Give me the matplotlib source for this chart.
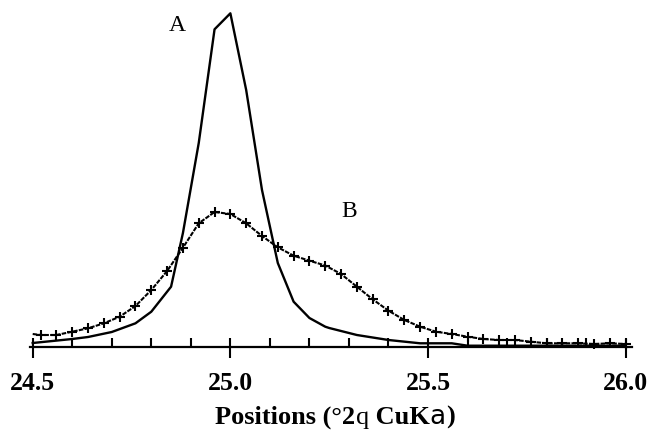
import matplotlib
matplotlib.use("Agg")
import matplotlib.pyplot as plt
from matplotlib.ticker import MultipleLocator, FixedLocator

# Curve A (solid line) : position (deg 2theta), intensity (arb.)
a_pos = [24.50, 24.60, 24.64, 24.70, 24.76, 24.80, 24.85, 24.88, 24.92, 24.96,
         25.00, 25.04, 25.08, 25.12, 25.16, 25.20, 25.24, 25.25, 25.32, 25.40,
         25.48, 25.56, 25.60, 26.00]
a_int = [4, 8, 10, 15, 23.7, 35.3, 60.3, 114, 204, 317.7,
         333.7, 257, 157, 84, 45.3, 29, 20.3, 19, 12, 7,
         3.7, 3.7, 1.3, 1.3]

# Curve B (markers '+') : every 0.04 deg from 24.52 to 26.00
b_pos = [round(24.52 + 0.04 * i, 2) for i in range(38)]
b_int = [12, 12, 15.3, 18.7, 23.7, 30.3, 41, 57, 76, 99.3,
         123.7, 135, 133, 123.7, 111, 99.7, 91.3, 86.3, 81.5, 73,
         60.3, 47.7, 36.3, 27, 20.3, 15.3, 13, 10.3, 8, 7,
         7, 5.3, 3.7, 3.7, 3.7, 3, 3.7, 3]

major_ticks = [24.5, 25.0, 25.5, 26.0]
major_labels = ["24.5", "25.0", "25.5", "26.0"]

W, H = 652, 432
fig = plt.figure(figsize=(W / 100, H / 100), dpi=100)
ax = fig.add_axes([30 / W, (H - 347) / H, 602 / W, 347 / H])

ax.plot(a_pos, a_int, color="black", lw=1.7, clip_on=False, zorder=3)
ax.plot([24.50] + b_pos, [13] + b_int, color="black", lw=1.5,
        linestyle=(0, (2.2, 0.6)), clip_on=False, zorder=3)
ax.plot(b_pos, b_int, linestyle="none", marker="+", ms=7.5, mew=1.5,
        color="black", clip_on=False, zorder=4)

ax.set_xlim(24.5 - 2.7 / 395.3, 26.0 + 6.3 / 395.3)
ax.set_ylim(0, 347)

for s in ["top", "right", "left"]:
    ax.spines[s].set_visible(False)
ax.spines["bottom"].set_linewidth(1.6)
ax.set_yticks([])

ax.xaxis.set_major_locator(FixedLocator(major_ticks))
ax.set_xticklabels(major_labels)
ax.xaxis.set_minor_locator(MultipleLocator(0.1))
ax.xaxis.remove_overlapping_locs = False
ax.tick_params(axis="x", which="major", direction="out", length=8, width=1.5,
               pad=10, labelsize=18.5)
ax.tick_params(axis="x", which="minor", direction="in", length=6.5, width=1.5)
for lab in ax.get_xticklabels():
    lab.set_fontfamily("Liberation Serif")
    lab.set_fontweight("bold")

ax.text(24.865, 322, "A", fontsize=17, family="Liberation Serif",
        ha="center", va="center")
ax.text(25.30, 136, "B", fontsize=17, family="Liberation Serif",
        ha="center", va="center")

# x label composed of pieces (symbol-font fallback look)
pieces = [("Positions (\u00b02", "Liberation Serif", "bold"),
          ("q", "Liberation Serif", "normal"),
          (" CuK", "Liberation Serif", "bold"),
          ("a", "DejaVu Sans", "normal"),
          (")", "Liberation Serif", "bold")]
fig.canvas.draw()
renderer = fig.canvas.get_renderer()
texts = []
widths = []
for s, fam, wt in pieces:
    t = fig.text(0, 0, s, fontsize=19, family=fam, fontweight=wt,
                 ha="left", va="baseline")
    bb = t.get_window_extent(renderer)
    texts.append(t)
    widths.append(bb.width)
total = sum(widths)
x0 = 335 - total / 2
ybase = (H - 424) / H
for t, w in zip(texts, widths):
    t.set_position((x0 / W, ybase))
    x0 += w

fig.savefig("out.png", dpi=100)
